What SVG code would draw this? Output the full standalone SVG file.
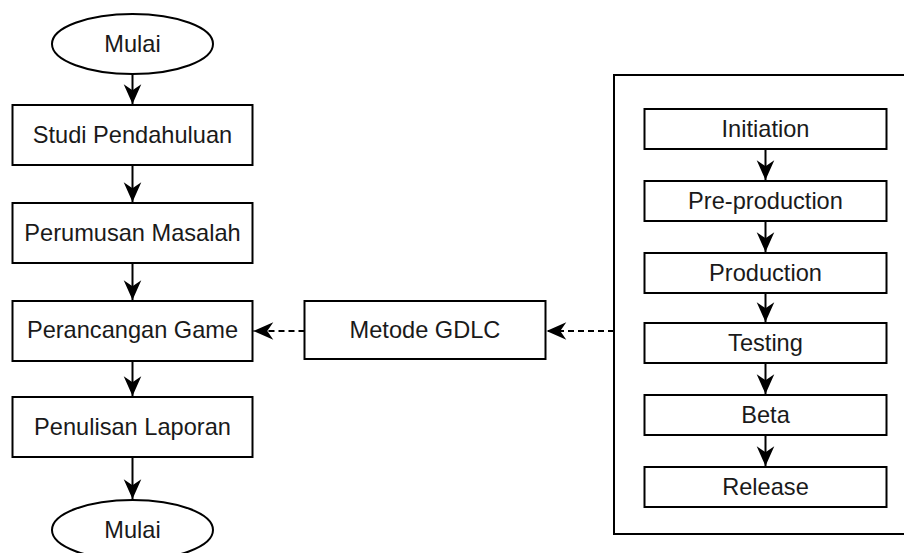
<svg xmlns="http://www.w3.org/2000/svg" width="904" height="553" viewBox="0 0 904 553">
  <style>
    .shape { fill: #ffffff; stroke: #000000; stroke-width: 2; }
    .frame { fill: none; stroke: #000000; stroke-width: 2; }
    .label { font-family: "Liberation Sans", Arial, sans-serif; font-size: 23.6px; fill: #1a1a1a; text-anchor: middle; }
    .edge { fill: none; stroke: #000000; stroke-width: 2; }
    .dashed { stroke-dasharray: 6 4; }
  </style>
  <defs>
    <marker id="arrow" markerUnits="userSpaceOnUse" markerWidth="22" markerHeight="22" viewBox="-19 -10 20 20" refX="0" refY="0" orient="auto">
      <path d="M0,0 L-18,-8 L-12.5,0 L-18,8 Z" fill="#000000" stroke="none"/>
    </marker>
  </defs>

  <rect width="904" height="553" fill="#ffffff"/>

  <!-- GDLC stage container -->
  <g id="gdlc-frame">
    <rect class="frame" x="614" y="75" width="300" height="459"/>
  </g>

  <!-- connectors -->
  <g id="connectors">
    <line class="edge" x1="132.5" y1="74" x2="132.5" y2="104" marker-end="url(#arrow)"/>
    <line class="edge" x1="132.5" y1="165" x2="132.5" y2="202" marker-end="url(#arrow)"/>
    <line class="edge" x1="132.5" y1="263" x2="132.5" y2="300" marker-end="url(#arrow)"/>
    <line class="edge" x1="132.5" y1="361" x2="132.5" y2="396" marker-end="url(#arrow)"/>
    <line class="edge" x1="132.5" y1="457" x2="132.5" y2="499" marker-end="url(#arrow)"/>

    <line class="edge dashed" x1="304.5" y1="331" x2="253.5" y2="331" marker-end="url(#arrow)"/>
    <line class="edge dashed" x1="614" y1="331" x2="546.5" y2="331" marker-end="url(#arrow)"/>

    <line class="edge" x1="765.5" y1="149" x2="765.5" y2="180" marker-end="url(#arrow)"/>
    <line class="edge" x1="765.5" y1="221" x2="765.5" y2="252" marker-end="url(#arrow)"/>
    <line class="edge" x1="765.5" y1="293" x2="765.5" y2="322" marker-end="url(#arrow)"/>
    <line class="edge" x1="765.5" y1="363" x2="765.5" y2="394" marker-end="url(#arrow)"/>
    <line class="edge" x1="765.5" y1="435" x2="765.5" y2="466" marker-end="url(#arrow)"/>
  </g>

  <!-- main research flow -->
  <g id="start">
    <ellipse class="shape" cx="132.5" cy="44" rx="80.5" ry="30"/>
    <text class="label" x="132.5" y="52">Mulai</text>
  </g>
  <g id="studi-pendahuluan">
    <rect class="shape" x="12.5" y="105" width="240" height="60"/>
    <text class="label" x="132.5" y="143">Studi Pendahuluan</text>
  </g>
  <g id="perumusan-masalah">
    <rect class="shape" x="12.5" y="203" width="240" height="60"/>
    <text class="label" x="132.5" y="241">Perumusan Masalah</text>
  </g>
  <g id="perancangan-game">
    <rect class="shape" x="12.5" y="301" width="240" height="60"/>
    <text class="label" x="132.5" y="338">Perancangan Game</text>
  </g>
  <g id="penulisan-laporan">
    <rect class="shape" x="12.5" y="397" width="240" height="60"/>
    <text class="label" x="132.5" y="435">Penulisan Laporan</text>
  </g>
  <g id="end">
    <ellipse class="shape" cx="132.5" cy="530" rx="80.5" ry="30"/>
    <text class="label" x="132.5" y="538">Mulai</text>
  </g>

  <!-- method -->
  <g id="metode-gdlc">
    <rect class="shape" x="304.5" y="301" width="241" height="58"/>
    <text class="label" x="425" y="338">Metode GDLC</text>
  </g>

  <!-- GDLC stages -->
  <g id="initiation">
    <rect class="shape" x="644.5" y="109" width="242" height="40"/>
    <text class="label" x="765.5" y="137">Initiation</text>
  </g>
  <g id="pre-production">
    <rect class="shape" x="644.5" y="181" width="242" height="40"/>
    <text class="label" x="765.5" y="209">Pre-production</text>
  </g>
  <g id="production">
    <rect class="shape" x="644.5" y="253" width="242" height="40"/>
    <text class="label" x="765.5" y="281">Production</text>
  </g>
  <g id="testing">
    <rect class="shape" x="644.5" y="323" width="242" height="40"/>
    <text class="label" x="765.5" y="351">Testing</text>
  </g>
  <g id="beta">
    <rect class="shape" x="644.5" y="395" width="242" height="40"/>
    <text class="label" x="765.5" y="423">Beta</text>
  </g>
  <g id="release">
    <rect class="shape" x="644.5" y="467" width="242" height="40"/>
    <text class="label" x="765.5" y="495">Release</text>
  </g>
</svg>
